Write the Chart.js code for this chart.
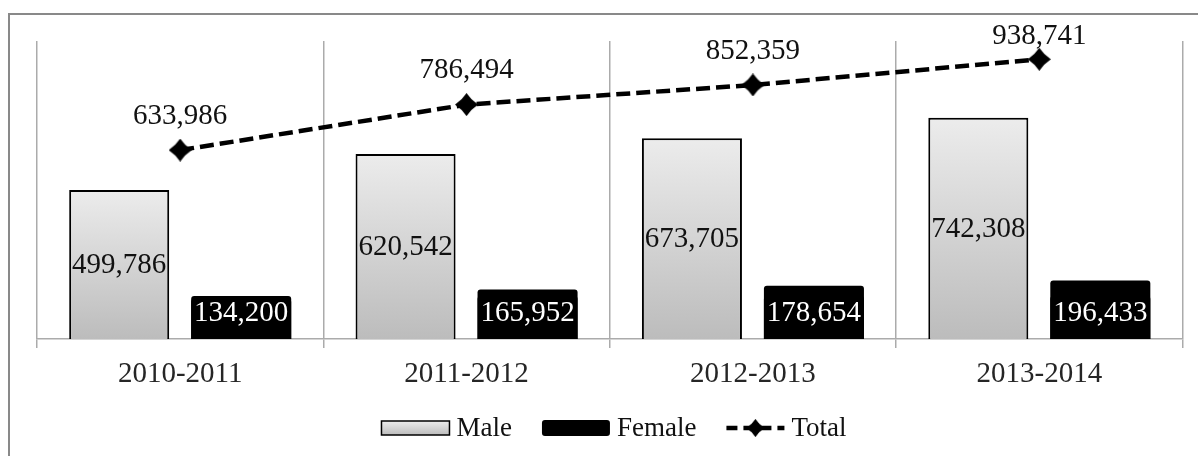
<!DOCTYPE html>
<html>
<head>
<meta charset="utf-8">
<script src="https://cdn.jsdelivr.net/npm/chart.js@4.4.1/dist/chart.umd.min.js"></script>
<style>
html,body{margin:0;padding:0;background:#fff}
#wrap{position:relative;width:1198px;height:456px}
</style>
</head>
<body>
<div id="wrap"><canvas id="c" width="1198" height="456"></canvas></div>
<script>

/* ===== DATA ===== */

const years = ["2010-2011","2011-2012","2012-2013","2013-2014"]
const male = [499786,620542,673705,742308]
const female = [134200,165952,178654,196433]
const total = [633986,786494,852359,938741]

const FONT = "'Liberation Serif', 'DejaVu Serif', serif"

/* ===== MARKER (concave 4 point star) ===== */

function starImage(size){
const c = document.createElement("canvas")
c.width = size; c.height = size
const g = c.getContext("2d")
const h = size/2, k = size*0.2
g.fillStyle = "#000"
g.beginPath()
g.moveTo(h,0)
g.quadraticCurveTo(h+k,h-k,size,h)
g.quadraticCurveTo(h+k,h+k,h,size)
g.quadraticCurveTo(h-k,h+k,0,h)
g.quadraticCurveTo(h-k,h-k,h,0)
g.closePath()
g.fill()
return c
}

const star = starImage(23)

function maleGradient(g,top,bottom){
const gr = g.createLinearGradient(0,top,0,bottom)
gr.addColorStop(0,"#ececec")
gr.addColorStop(1,"#bcbcbc")
return gr
}

const fmt = v => v.toLocaleString("en-US")

/* ===== OUTER FRAME ===== */

const framePlugin = {
id:"frame",
beforeDraw(chart){
const {ctx} = chart
ctx.save()
ctx.fillStyle = "#fff"
ctx.fillRect(0,0,chart.width,chart.height)
ctx.strokeStyle = "#898989"
ctx.lineWidth = 2
ctx.strokeRect(9,14,chart.width,chart.height)
ctx.restore()
}
}

/* ===== VALUE LABELS ===== */

const labelPlugin = {
id:"valueLabels",
afterDatasetsDraw(chart){
const {ctx} = chart
ctx.save()
ctx.font = "29px " + FONT
ctx.textAlign = "center"
ctx.textBaseline = "middle"

chart.getDatasetMeta(0).data.forEach((bar,i)=>{
ctx.fillStyle = "#111"
ctx.fillText(fmt(male[i]), bar.x, (bar.y+bar.base)/2 + 1)
})

chart.getDatasetMeta(1).data.forEach((bar,i)=>{
const cy = bar.base - 27
ctx.fillStyle = "#000"
ctx.beginPath()
ctx.roundRect(bar.x - bar.width/2, cy - 16, bar.width, bar.base - cy + 16, [3,3,0,0])
ctx.fill()
ctx.fillStyle = "#fff"
ctx.fillText(fmt(female[i]), bar.x, cy + 1)
})

chart.getDatasetMeta(2).data.forEach((pt,i)=>{
ctx.fillStyle = "#111"
ctx.fillText(fmt(total[i]), pt.x, Math.max(pt.y - 34, 36))
})

ctx.restore()
}
}

/* ===== LEGEND ===== */

const legendPlugin = {
id:"customLegend",
afterDraw(chart){
const {ctx} = chart
const cy = 428
ctx.save()
ctx.font = "27px " + FONT
ctx.textBaseline = "middle"
ctx.textAlign = "left"

const items = chart.data.datasets.map(ds=>({label:ds.label, type:ds.type, sw: ds.type==="line" ? 58 : 68}))
const gapText = 7, gapItem = 30
let width = 0
items.forEach((it,i)=>{
it.tw = ctx.measureText(it.label).width
width += it.sw + gapText + it.tw + (i<items.length-1 ? gapItem : 0)
})
let x = 614 - width/2

items.forEach((it,i)=>{
if(it.type==="line"){
ctx.save()
ctx.strokeStyle = "#000"
ctx.lineWidth = 4.5
ctx.setLineDash([11,6])
ctx.beginPath()
ctx.moveTo(x,cy)
ctx.lineTo(x+it.sw,cy)
ctx.stroke()
ctx.restore()
ctx.drawImage(star, x+it.sw/2-9, cy-9, 18, 18)
} else if(i===0){
ctx.fillStyle = maleGradient(ctx,cy-7,cy+7)
ctx.fillRect(x,cy-7,it.sw,14)
ctx.strokeStyle = "#000"
ctx.lineWidth = 1.5
ctx.strokeRect(x,cy-7,it.sw,14)
} else {
ctx.fillStyle = "#000"
ctx.beginPath()
ctx.roundRect(x,cy-8,it.sw,16,3)
ctx.fill()
}
x += it.sw + gapText
ctx.fillStyle = "#111"
ctx.fillText(it.label,x,cy+1)
x += it.tw + gapItem
})
ctx.restore()
}
}

/* ===== CHART ===== */

new Chart(document.getElementById("c"),{

type:"bar",

data:{
labels:years,
datasets:[
{
type:"bar",
label:"Male",
data:male,
order:1,
backgroundColor(c){
const ch = c.chart
if(!ch.chartArea || c.raw===undefined) return "#d8d8d8"
const y = ch.scales.y
return maleGradient(ch.ctx, y.getPixelForValue(c.raw), y.getPixelForValue(0))
},
borderColor:"#000",
borderWidth:2,
categoryPercentage:0.852,
barPercentage:0.82
},
{
type:"bar",
label:"Female",
data:female,
order:1,
backgroundColor:"#000",
borderWidth:0,
borderRadius:{topLeft:3,topRight:3},
borderSkipped:"bottom",
categoryPercentage:0.852,
barPercentage:0.82
},
{
type:"line",
label:"Total",
data:total,
order:0,
borderColor:"#000",
borderWidth:4.5,
borderDash:[14,6],
tension:0,
fill:false,
pointStyle:star,
pointRadius:11,
pointHoverRadius:11
}
]
},

options:{
responsive:false,
animation:false,
events:[],
layout:{padding:{left:37,right:15,top:41,bottom:0}},
plugins:{
legend:{display:false},
tooltip:{enabled:false}
},
scales:{
x:{
offset:true,
grid:{offset:true,color:"#ababab",lineWidth:1.5,tickLength:9,drawOnChartArea:true},
border:{display:true,color:"#ababab",width:1.5},
ticks:{color:"#262626",font:{family:FONT,size:29},padding:9,maxRotation:0},
afterFit(scale){ scale.height = 117 }
},
y:{
display:false,
min:0,
max:1000000
}
}
},

plugins:[framePlugin,labelPlugin,legendPlugin]

})

</script>
</body>
</html>
